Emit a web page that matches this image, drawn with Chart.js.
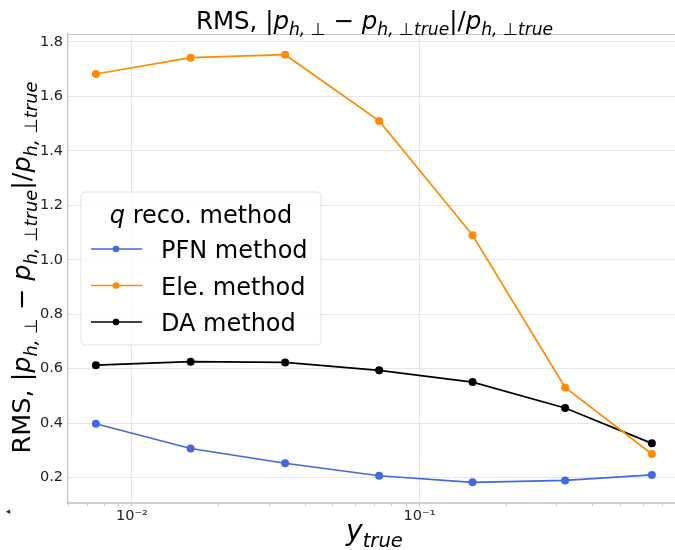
<!DOCTYPE html>
<html>
<head>
<meta charset="utf-8">
<script src="https://cdn.jsdelivr.net/npm/chart.js@4/dist/chart.umd.min.js"></script>
<style>
  html, body { margin: 0; padding: 0; background: #fff; }
  #wrap { width: 675px; height: 550px; }
</style>
</head>
<body>
<div id="wrap"><canvas id="rmsChart" width="675" height="550"></canvas></div>
<script>
/* RMS of the relative p_h,perp resolution vs y_true, per q reconstruction method */

const yTrue  = [0.00749, 0.0160, 0.0341, 0.0724, 0.153, 0.321, 0.643];
const pfnRms = [0.398, 0.307, 0.253, 0.207, 0.183, 0.190, 0.210];
const eleRms = [1.682, 1.742, 1.753, 1.510, 1.090, 0.531, 0.287];
const daRms  = [0.613, 0.626, 0.623, 0.594, 0.551, 0.456, 0.326];

const seriesNames  = ['PFN method', 'Ele. method', 'DA method'];
const seriesColors = ['#4169e1', '#ff8c00', '#000000'];

const yTicks = [0.2, 0.4, 0.6, 0.8, 1.0, 1.2, 1.4, 1.6, 1.8];
const xMajorTicks  = [0.01, 0.1];
const xMajorLabels = ['10⁻²', '10⁻¹'];
const xMinorTicks  = [0.006, 0.007, 0.008, 0.009,
                      0.02, 0.03, 0.04, 0.05, 0.06, 0.07, 0.08, 0.09,
                      0.2, 0.3, 0.4, 0.5, 0.6, 0.7];

const FONT = '"DejaVu Sans", sans-serif';

// mathtext-ish: list of parts {t, i: italic, s: subscript}
const resLabel = [
  { t: 'RMS, |' }, { t: 'p', i: 1 }, { t: 'h, ', i: 1, s: 1 }, { t: '⊥', s: 1 },
  { t: ' − ' }, { t: 'p', i: 1 }, { t: 'h, ', i: 1, s: 1 }, { t: '⊥', s: 1 }, { t: 'true', i: 1, s: 1 },
  { t: '|/' }, { t: 'p', i: 1 }, { t: 'h, ', i: 1, s: 1 }, { t: '⊥', s: 1 }, { t: 'true', i: 1, s: 1 }
];
const xLabel = [{ t: 'y', i: 1 }, { t: 'true', i: 1, s: 1 }];
const legendTitle = [{ t: 'q', i: 1 }, { t: ' reco. method' }];

function partFont(p, size) {
  const sz = p.s ? size * 0.7 : size;
  return (p.i ? 'italic ' : '') + sz + 'px ' + FONT;
}

function mathWidth(ctx, parts, size) {
  let w = 0;
  parts.forEach(function(p) { ctx.font = partFont(p, size); w += ctx.measureText(p.t).width; });
  return w;
}

function drawMath(ctx, parts, size, x, y, rot, align) {
  ctx.save();
  ctx.translate(x, y);
  ctx.rotate(rot || 0);
  ctx.fillStyle = '#000';
  ctx.textBaseline = 'alphabetic';
  ctx.textAlign = 'left';
  let cx = align === 'left' ? 0 : -mathWidth(ctx, parts, size) / 2;
  parts.forEach(function(p) {
    ctx.font = partFont(p, size);
    ctx.fillText(p.t, cx, p.s ? size * 0.26 : 0);
    cx += ctx.measureText(p.t).width;
  });
  ctx.restore();
}

const decorPlugin = {
  id: 'decor',
  afterDraw(chart) {
    const ctx = chart.ctx;
    const a = chart.chartArea;
    const midX = (a.left + a.right) / 2;
    const midY = (a.top + a.bottom) / 2;

    // top frame line
    ctx.save();
    ctx.strokeStyle = '#c4c4c4';
    ctx.lineWidth = 1.2;
    ctx.beginPath();
    ctx.moveTo(a.left, a.top + 0.5);
    ctx.lineTo(a.right, a.top + 0.5);
    ctx.stroke();
    ctx.restore();

    drawMath(ctx, resLabel, 24.5, midX + 3, a.top - 5);
    drawMath(ctx, resLabel, 25.5, 30, midY - 1, -Math.PI / 2);
    drawMath(ctx, xLabel, 28, midX + 3, 540);

    // legend
    const bx = a.left + 13, by = a.top + 158, bw = 240, bh = 153;
    ctx.save();
    ctx.beginPath();
    ctx.roundRect(bx, by, bw, bh, 4);
    ctx.fillStyle = 'rgba(255,255,255,0.8)';
    ctx.fill();
    ctx.strokeStyle = '#e3e3e3';
    ctx.lineWidth = 1;
    ctx.stroke();
    ctx.restore();

    drawMath(ctx, legendTitle, 24, bx + bw / 2, by + 31);
    seriesNames.forEach(function(name, i) {
      const ry = by + 57 + i * 36.5;
      ctx.save();
      ctx.strokeStyle = seriesColors[i];
      ctx.fillStyle = seriesColors[i];
      ctx.lineWidth = 1.6;
      ctx.beginPath();
      ctx.moveTo(bx + 10, ry);
      ctx.lineTo(bx + 61, ry);
      ctx.stroke();
      ctx.beginPath();
      ctx.arc(bx + 35, ry, 3.3, 0, Math.PI * 2);
      ctx.fill();
      ctx.restore();
      drawMath(ctx, [{ t: name }], 24, bx + 80, ry + 9, 0, 'left');
    });

    // small marker at the lower left corner
    ctx.save();
    ctx.fillStyle = '#1f2a55';
    ctx.font = '9px ' + FONT;
    ctx.textAlign = 'center';
    ctx.textBaseline = 'middle';
    ctx.fillText('◂', 8, 512);
    ctx.restore();
  }
};

function toPoints(vals) {
  return vals.map(function(v, i) { return { x: yTrue[i], y: v }; });
}

const datasets = [pfnRms, eleRms, daRms].map(function(vals, i) {
  return {
    label: seriesNames[i],
    data: toPoints(vals),
    borderColor: seriesColors[i],
    backgroundColor: seriesColors[i],
    borderWidth: 1.7,
    pointRadius: 4,
    pointBorderWidth: 0,
    tension: 0,
  };
});

new Chart(document.getElementById('rmsChart'), {
  type: 'line',
  data: { datasets: datasets },
  plugins: [decorPlugin],
  options: {
    responsive: false,
    animation: false,
    events: [],
    layout: { autoPadding: false, padding: { top: 34, right: 0, left: 0, bottom: 0 } },
    plugins: { legend: { display: false }, title: { display: false }, tooltip: { enabled: false } },
    scales: {
      x: {
        type: 'logarithmic',
        min: 0.005991,
        max: 0.774,
        afterBuildTicks: function(axis) {
          axis.ticks = xMajorTicks.concat(xMinorTicks).sort(function(p, q) { return p - q; })
            .map(function(v) { return { value: v }; });
        },
        afterFit: function(axis) {
          axis.height = 47;
          axis.paddingLeft = 0;
          axis.paddingRight = 0;
        },
        ticks: {
          autoSkip: false,
          maxRotation: 0,
          padding: 2,
          color: '#222',
          font: { family: FONT, size: 14.5 },
          callback: function(v) {
            const k = xMajorTicks.indexOf(v);
            return k >= 0 ? xMajorLabels[k] : '';
          }
        },
        grid: {
          color: function(c) {
            return c.tick && xMajorTicks.indexOf(c.tick.value) >= 0 ? '#e6e6e6' : 'rgba(0,0,0,0)';
          },
          tickColor: '#c8c8c8',
          tickLength: 3,
          lineWidth: 1,
        },
        border: { display: true, color: '#d2d2d2', width: 2 }
      },
      y: {
        min: 0.107,
        max: 1.829,
        afterBuildTicks: function(axis) {
          axis.ticks = yTicks.map(function(v) { return { value: v }; });
        },
        afterFit: function(axis) { axis.width = 68; },
        ticks: {
          padding: 5,
          color: '#222',
          font: { family: FONT, size: 14.5 },
          callback: function(v) { return v.toFixed(1); }
        },
        grid: { color: '#e6e6e6', drawTicks: false, lineWidth: 1 },
        border: { display: true, color: '#c4c4c4', width: 1.2 }
      }
    }
  }
});
</script>
</body>
</html>
